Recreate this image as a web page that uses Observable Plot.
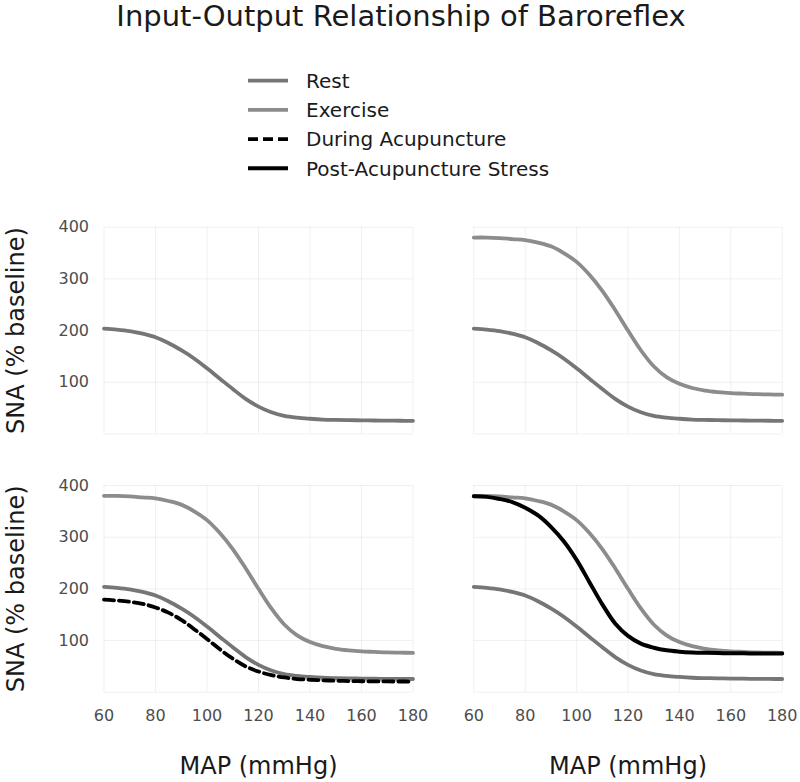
<!DOCTYPE html>
<html><head><meta charset="utf-8">
<script src="https://cdn.jsdelivr.net/npm/d3@7"></script>
<script src="https://cdn.jsdelivr.net/npm/@observablehq/plot@0.6"></script>
<style>
body{margin:0;background:#fff;font-family:"DejaVu Sans",sans-serif;}
#root{position:relative;width:800px;height:782px;overflow:hidden;background:#fff;}
.panel{position:absolute;}
.panel svg{overflow:visible;display:block;}
#head{position:absolute;left:0;top:0;}
</style></head><body><div id="root"></div>
<script>
// ---- data ----
const titleText = "Input-Output Relationship of Baroreflex";
const yLabelText = "SNA (% baseline)";
const xLabelText = "MAP (mmHg)";
const xTicks = [60, 80, 100, 120, 140, 160, 180];
const yTicks = [100, 200, 300, 400];
const yGrid = [0, 100, 200, 300, 400];

const mapValues = [60,65,70,75,80,85,90,95,100,105,110,115,120,125,130,135,140,145,150,155,160,165,170,175,180];
const restValues = [204,202,199,194,187,176,162,146,127,107,87,68,53,42,35,31.5,29.5,28,27.3,26.8,26.4,26.1,25.8,25.6,25.5];
const exerciseValues = [380,380,379,377,375,370,363,350,333,308,277,240,200,162,131,110,97,89,84,81,79,78,77,76.5,76];
const duringValues = [179,177.5,175,171,164,154,140,122,103,83,65,50,40,33,28.5,25.5,24,23,22.2,21.6,21.2,21,20.8,20.7,20.6];
const postValues = [379,378,374,368,357,342,320,292,256,213,170,133,109,94,86,81,78.5,77,76.2,75.7,75.4,75.2,75,75,75];

const seriesNames = ["Rest", "Exercise", "During Acupuncture", "Post-Acupuncture Stress"];
const seriesColors = ["#767676", "#8c8c8c", "#000000", "#000000"];
const seriesWidths = [3.8, 3.8, 3.8, 4];
const seriesDash = [null, null, "10,5", null];
const seriesValues = [restValues, exerciseValues, duringValues, postValues];

// panels: which series they show (indices into seriesNames)
const panelSeries = [[0], [0, 1], [0, 1, 2], [0, 1, 3]];

// ---- build ----
const root = document.getElementById("root");
const NS = "http://www.w3.org/2000/svg";

// header: title + legend
const head = document.createElementNS(NS, "svg");
head.setAttribute("width", 800); head.setAttribute("height", 200); head.id = "head";
const t = document.createElementNS(NS, "text");
t.setAttribute("x", 401); t.setAttribute("y", 25.5); t.setAttribute("text-anchor", "middle");
t.setAttribute("font-size", 29); t.setAttribute("fill", "#1a1a1a");
t.setAttribute("font-family", "DejaVu Sans");
t.textContent = titleText; head.appendChild(t);
seriesNames.forEach((name, i) => {
  const cy = 80.7 + i * 29.2;
  const ln = document.createElementNS(NS, "line");
  ln.setAttribute("x1", 248); ln.setAttribute("x2", 288);
  ln.setAttribute("y1", cy); ln.setAttribute("y2", cy);
  ln.setAttribute("stroke", seriesColors[i]);
  ln.setAttribute("stroke-width", seriesWidths[i]);
  if (seriesDash[i]) ln.setAttribute("stroke-dasharray", seriesDash[i]);
  head.appendChild(ln);
  const tx = document.createElementNS(NS, "text");
  tx.setAttribute("x", 306); tx.setAttribute("y", cy); tx.setAttribute("dy", "0.36em");
  tx.setAttribute("font-size", 20); tx.setAttribute("fill", "#1a1a1a");
  tx.setAttribute("font-family", "DejaVu Sans");
  tx.textContent = name; head.appendChild(tx);
});
root.appendChild(head);

const rows = [];
seriesNames.forEach((name, s) => {
  mapValues.forEach((m, k) => rows.push({series: s, map: m, sna: seriesValues[s][k]}));
});

function makePanel(idx, box) {
  const marks = [
    Plot.ruleY(yGrid, {stroke: "#000", strokeOpacity: 0.06, strokeWidth: 1}),
    Plot.ruleX(xTicks, {stroke: "#000", strokeOpacity: 0.06, strokeWidth: 1})
  ];
  for (const s of panelSeries[idx]) {
    marks.push(Plot.line(rows.filter(d => d.series === s), {
      x: "map", y: "sna", stroke: seriesColors[s], strokeWidth: seriesWidths[s],
      strokeDasharray: seriesDash[s] || undefined, curve: "catmull-rom"
    }));
  }
  if (box.showY) {
    marks.push(Plot.axisY(yTicks, {tickSize: 0, tickPadding: 15, fontSize: 16, color: "#4d4d4d", label: null}));
    marks.push(Plot.text([yLabelText], {frameAnchor: "left", dx: -88, rotate: -90, fontSize: 24,
      fill: "#1a1a1a", textAnchor: "middle", lineAnchor: "middle"}));
  }
  if (box.showX) {
    marks.push(Plot.axisX(xTicks, {tickSize: 0, tickPadding: 17, fontSize: 16, color: "#4d4d4d", label: null}));
    marks.push(Plot.text([xLabelText], {frameAnchor: "bottom", dy: 74, fontSize: 24,
      fill: "#1a1a1a", textAnchor: "middle", lineAnchor: "middle"}));
  }
  const svg = Plot.plot({
    width: box.width, height: box.height,
    marginLeft: box.ml, marginRight: box.mr, marginTop: box.mt, marginBottom: box.mb,
    x: {domain: [60, 180], axis: null, label: null},
    y: {domain: [0, 400], axis: null, label: null},
    style: {fontFamily: "DejaVu Sans", background: "transparent", overflow: "visible"},
    marks
  });
  const div = document.createElement("div");
  div.className = "panel";
  div.style.left = box.left + "px"; div.style.top = box.top + "px";
  div.appendChild(svg);
  root.appendChild(div);
}

makePanel(0, {left: 0, top: 200, width: 430, height: 250, ml: 103.5, mr: 17.5, mt: 26.7, mb: 16.5, showY: true, showX: false});
makePanel(1, {left: 430, top: 200, width: 370, height: 250, ml: 43.3, mr: 18.3, mt: 26.7, mb: 16.5, showY: false, showX: false});
makePanel(2, {left: 0, top: 460, width: 430, height: 322, ml: 103.5, mr: 17.5, mt: 25, mb: 90.3, showY: true, showX: true});
makePanel(3, {left: 430, top: 460, width: 370, height: 322, ml: 43.3, mr: 18.3, mt: 25, mb: 90.3, showY: false, showX: true});
</script>
</body></html>
